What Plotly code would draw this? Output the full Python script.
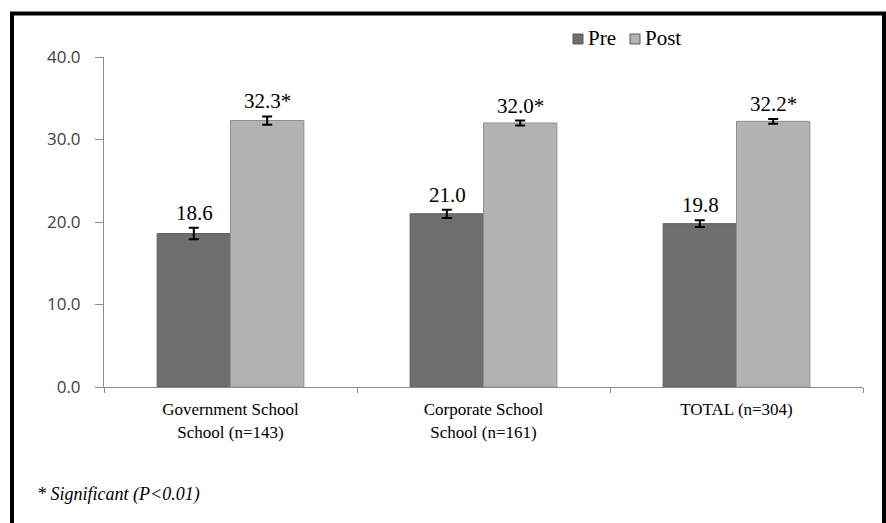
import plotly.graph_objects as go

categories = ["Government School<br>School (n=143)", "Corporate School<br>School (n=161)", "TOTAL (n=304)"]
series_names = ["Pre", "Post"]
series_colors = ["#6e6e6e", "#b3b3b3"]
pre_values = [18.6, 21.0, 19.8]
post_values = [32.3, 32.0, 32.2]
pre_err = [0.7, 0.5, 0.4]
post_err = [0.5, 0.3, 0.3]
pre_labels = ["18.6", "21.0", "19.8"]
post_labels = ["32.3*", "32.0*", "32.2*"]
y_ticks = [0, 10, 20, 30, 40]
y_tick_text = ["0.0", "10.0", "20.0", "30.0", "40.0"]
footnote = "* Significant (P<0.01)"

W, H = 886, 523
L, R, T, B = 104, 23, 57, 136
pw, ph = W - L - R, H - T - B


def px_x(v):
    return (v - L) / pw


def px_y(v):
    return (H - B - v) / ph


fig = go.Figure()
fig.add_trace(go.Bar(
    name=series_names[0], x=categories, y=pre_values,
    marker=dict(color=series_colors[0], line=dict(color="#5e5e5e", width=1)),
    error_y=dict(type="data", array=pre_err, color="black", thickness=2, width=5),
))
fig.add_trace(go.Bar(
    name=series_names[1], x=categories, y=post_values,
    marker=dict(color=series_colors[1], line=dict(color="#8f8f8f", width=1)),
    error_y=dict(type="data", array=post_err, color="black", thickness=2, width=5),
))

annotations = []
for i, c in enumerate(categories):
    for vals, errs, labs, shift in ((pre_values, pre_err, pre_labels, -36.5), (post_values, post_err, post_labels, 36.5)):
        annotations.append(dict(
            x=c, y=vals[i] + errs[i], xref="x", yref="y", text=labs[i],
            showarrow=False, xshift=shift, yshift=1, yanchor="bottom",
            font=dict(family="Liberation Serif", size=21, color="black"),
        ))
annotations.append(dict(
    x=px_x(35), y=px_y(495), xref="paper", yref="paper",
    text="<i>" + footnote + "</i>", showarrow=False, xanchor="left", yanchor="middle",
    font=dict(family="Liberation Serif", size=18, color="black"),
))

# custom legend (compact, as in the reference)
shapes = [dict(
    type="rect", xref="paper", yref="paper",
    x0=px_x(12), x1=px_x(884), y0=px_y(540), y1=px_y(13.5),
    line=dict(color="black", width=4), fillcolor="rgba(0,0,0,0)", layer="below",
)]
legend_pos = [(573, 586), (630, 643)]
for name, col, (sx, tx) in zip(series_names, series_colors, legend_pos):
    shapes.append(dict(
        type="rect", xref="paper", yref="paper",
        x0=px_x(sx), x1=px_x(sx + 10), y0=px_y(44), y1=px_y(34),
        line=dict(color="#5a5a5a", width=1), fillcolor=col,
    ))
    annotations.append(dict(
        x=px_x(tx), y=px_y(38), xref="paper", yref="paper", text=name,
        showarrow=False, xanchor="left", yanchor="middle",
        font=dict(family="Liberation Serif", size=21, color="black"),
    ))

fig.update_layout(
    width=W, height=H,
    margin=dict(l=L, r=R, t=T, b=B),
    paper_bgcolor="white", plot_bgcolor="white",
    barmode="group", bargap=0.42, bargroupgap=0,
    showlegend=False,
    annotations=annotations,
    shapes=shapes,
    xaxis=dict(
        showline=True, linecolor="#8c8c8c", linewidth=1,
        ticks="outside", tickson="boundaries", ticklen=5, tickcolor="#8c8c8c",
        tickfont=dict(family="Liberation Serif", size=17, color="black"),
        ticklabelstandoff=7,
        showgrid=False,
    ),
    yaxis=dict(
        range=[0, 40], tickvals=y_ticks, ticktext=y_tick_text,
        showline=True, linecolor="#8c8c8c", linewidth=1,
        ticks="outside", ticklen=8, tickcolor="#8c8c8c",
        tickfont=dict(family="Open Sans", size=17, color="#404040"),
        ticklabelstandoff=11,
        showgrid=False, zeroline=False,
    ),
)

fig.write_html("out.html")
